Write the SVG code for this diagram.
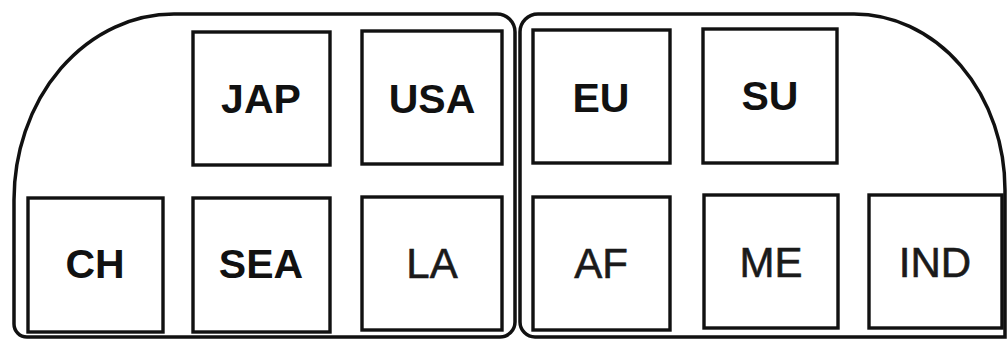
<svg xmlns="http://www.w3.org/2000/svg" width="1007" height="343" viewBox="0 0 1007 343">
<style>
.cont{fill:none;stroke:#111;stroke-width:3.5}
.box{fill:#fff;stroke:#111;stroke-width:3.4}
.b{font-family:"Liberation Sans",Arial,sans-serif;font-size:41px;font-weight:bold;fill:#111;text-anchor:middle}
.n{font-family:"Liberation Sans",Arial,sans-serif;font-size:42px;font-weight:normal;fill:#1a1a1a;stroke:#1a1a1a;stroke-width:0.6;text-anchor:middle}
</style>
<rect width="1007" height="343" fill="#fff"/>
<g id="containers">
<path id="left" class="cont" d="M174,14 H497 A18,18 0 0 1 515,32 V322 A15,15 0 0 1 500,337 H27 A13,13 0 0 1 14,324 V200 A160,186 0 0 1 174,14 Z"/>
<path id="right" class="cont" d="M854,14 H538 A18,18 0 0 0 520,32 V322 A15,15 0 0 0 535,337 H1005 V190 A151,176 0 0 0 854,14 Z"/>
</g>
<g id="JAP"><rect class="box" x="193" y="32" width="137" height="133"/><text class="b" x="261" y="113">JAP</text></g>
<g id="USA"><rect class="box" x="362" y="31" width="140" height="133"/><text class="b" x="432" y="113">USA</text></g>
<g id="EU"><rect class="box" x="533" y="30" width="137" height="133"/><text class="b" x="601" y="112">EU</text></g>
<g id="SU"><rect class="box" x="703" y="29" width="134" height="134"/><text class="b" x="770" y="110">SU</text></g>
<g id="CH"><rect class="box" x="28" y="198" width="135" height="134"/><text class="b" x="95" y="278">CH</text></g>
<g id="SEA"><rect class="box" x="193" y="198" width="137" height="134"/><text class="b" x="261" y="278">SEA</text></g>
<g id="LA"><rect class="box" x="362" y="197" width="140" height="133"/><text class="n" x="432" y="278">LA</text></g>
<g id="AF"><rect class="box" x="533" y="197" width="137" height="133"/><text class="n" x="601" y="278">AF</text></g>
<g id="ME"><rect class="box" x="704" y="195" width="134" height="133"/><text class="n" x="771" y="277">ME</text></g>
<g id="IND"><rect class="box" x="869" y="195" width="133" height="133"/><text class="n" x="935" y="277">IND</text></g>
<g id="connectors"></g>
</svg>
